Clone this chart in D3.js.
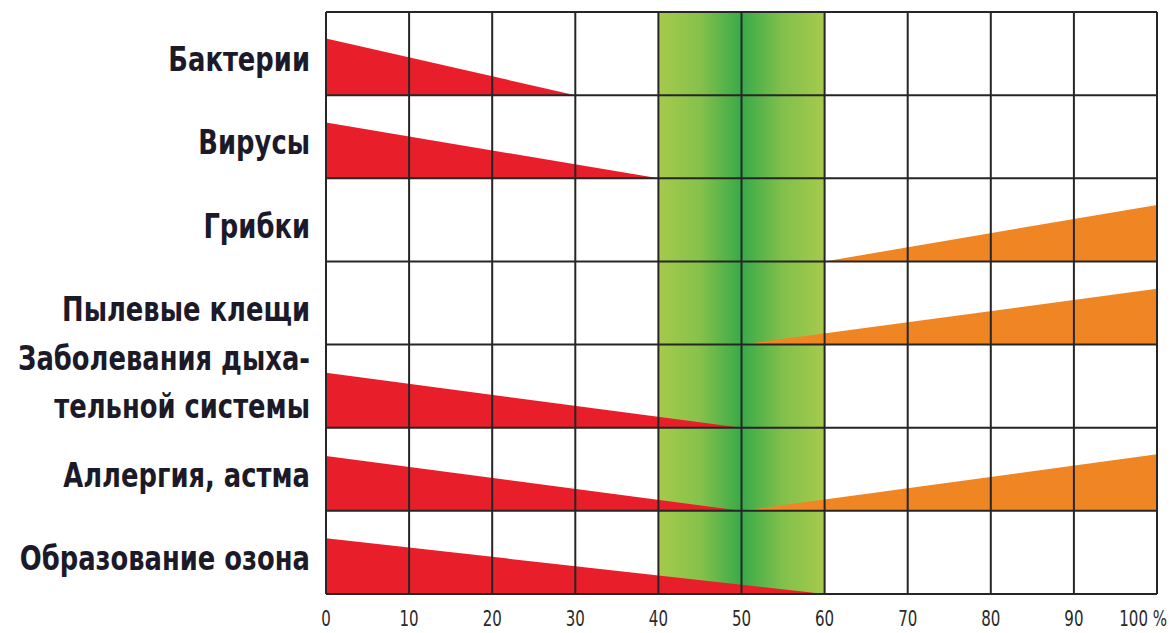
<!DOCTYPE html>
<html><head><meta charset="utf-8">
<script src="https://cdn.jsdelivr.net/npm/d3@7"></script>
<style>
html,body{margin:0;padding:0;background:#fff;}
svg{display:block;}
</style></head>
<body>
<svg id="chart" width="1173" height="633"></svg>
<script>
// ---- data ----
const categories = [
  ["Бактерии"],
  ["Вирусы"],
  ["Грибки"],
  ["Пылевые клещи"],
  ["Заболевания дыха-", "тельной системы"],
  ["Аллергия, астма"],
  ["Образование озона"]
];
// red (too dry) wedge: full intensity at 0 %, fading to zero at the given humidity
const redEnd   = [30, 40, null, null, 50, 50, 60];
const redPeak  = [68, 67, null, null, 66, 66, 67];
// orange (too humid) wedge: zero at given humidity, full intensity at 100 %
const orangeStart = [null, null, 60, 50, null, 50, null];
const orangePeak  = [null, null, 68, 67, null, 68, null];
const xTicks = [0, 10, 20, 30, 40, 50, 60, 70, 80, 90, 100];
const optimal = [40, 60];

// ---- layout ----
const svg = d3.select("#chart");
const pLeft = 326, pRight = 1157, pTop = 12, pBottom = 594;
const x = d3.scaleLinear().domain([0, 100]).range([pLeft, pRight]);
const y = d3.scaleBand().domain(d3.range(categories.length)).range([pTop, pBottom]).padding(0);
const h = d3.scaleLinear().domain([0, 100]).range([0, y.bandwidth()]);

const defs = svg.append("defs");
const g = defs.append("linearGradient").attr("id", "green").attr("x1", "0").attr("x2", "1").attr("y1", "0").attr("y2", "0");
[[0, "#a6ca4c"], [0.25, "#86c14b"], [0.5, "#38aa49"], [0.75, "#82c04b"], [1, "#a6ca4c"]]
  .forEach(([o, c]) => g.append("stop").attr("offset", o).attr("stop-color", c));

// optimal band
svg.append("rect")
  .attr("x", x(optimal[0])).attr("y", pTop)
  .attr("width", x(optimal[1]) - x(optimal[0])).attr("height", pBottom - pTop)
  .attr("fill", "url(#green)");

// wedges
const area = d3.area().x(d => x(d[0])).y0(d => d[2]).y1(d => d[2] - h(d[1]));
categories.forEach((c, i) => {
  const base = y(i) + y.bandwidth();
  if (redEnd[i] != null) {
    svg.append("path")
      .attr("d", area([[0, redPeak[i], base], [redEnd[i], 0, base]]))
      .attr("fill", "#e81e2a");
  }
  if (orangeStart[i] != null) {
    svg.append("path")
      .attr("d", area([[orangeStart[i], 0, base], [100, orangePeak[i], base]]))
      .attr("fill", "#f08524");
  }
});

// grid
const grid = svg.append("g").attr("stroke", "#262626").attr("stroke-width", 2);
xTicks.forEach(t => grid.append("line").attr("x1", x(t)).attr("x2", x(t)).attr("y1", pTop).attr("y2", pBottom));
d3.range(categories.length + 1).forEach(i => {
  const yy = i < categories.length ? y(i) : pBottom;
  grid.append("line").attr("x1", pLeft).attr("x2", pRight).attr("y1", yy).attr("y2", yy);
});

// category labels (condensed via horizontal scaling)
const labX = 310;
const lab = svg.append("g")
  .attr("font-family", "'Liberation Sans Narrow','DejaVu Sans Condensed','DejaVu Sans',sans-serif")
  .attr("font-weight", "bold").attr("font-size", 33).attr("fill", "#1c1a28")
  .attr("text-anchor", "end");
const labTexts = [];
categories.forEach((c, i) => {
  const cy = y(i) + y.bandwidth() / 2 + 6;
  const t = lab.append("text").attr("x", labX).attr("y", cy).attr("dominant-baseline", "central");
  if (c.length === 1) {
    t.text(c[0]);
  } else {
    t.attr("y", cy - 34);
    c.forEach((line, k) => t.append("tspan").attr("x", labX).attr("dy", k === 0 ? 0 : 48).text(line));
  }
  labTexts.push(t);
});
let maxW = 0;
labTexts.forEach(t => { maxW = Math.max(maxW, t.node().getBBox().width); });
const sx = Math.min(1, 292 / maxW);
labTexts.forEach(t => t.attr("transform", `translate(${labX},0) scale(${sx},1) translate(${-labX},0)`));

// x tick labels
const tl = svg.append("g")
  .attr("font-family", "'Liberation Sans Narrow','DejaVu Sans Condensed','DejaVu Sans',sans-serif")
  .attr("font-size", 22).attr("fill", "#2a2a2a");
xTicks.forEach(t => {
  const txt = tl.append("text").attr("y", 626);
  let ax;
  if (t === 100) {
    ax = x(t) + 10;
    txt.attr("x", ax).attr("text-anchor", "end").text(t + " %");
  } else {
    ax = x(t);
    txt.attr("x", ax).attr("text-anchor", "middle").text(t);
  }
  txt.attr("transform", `translate(${ax},0) scale(0.76,1) translate(${-ax},0)`);
});
</script>
</body></html>
